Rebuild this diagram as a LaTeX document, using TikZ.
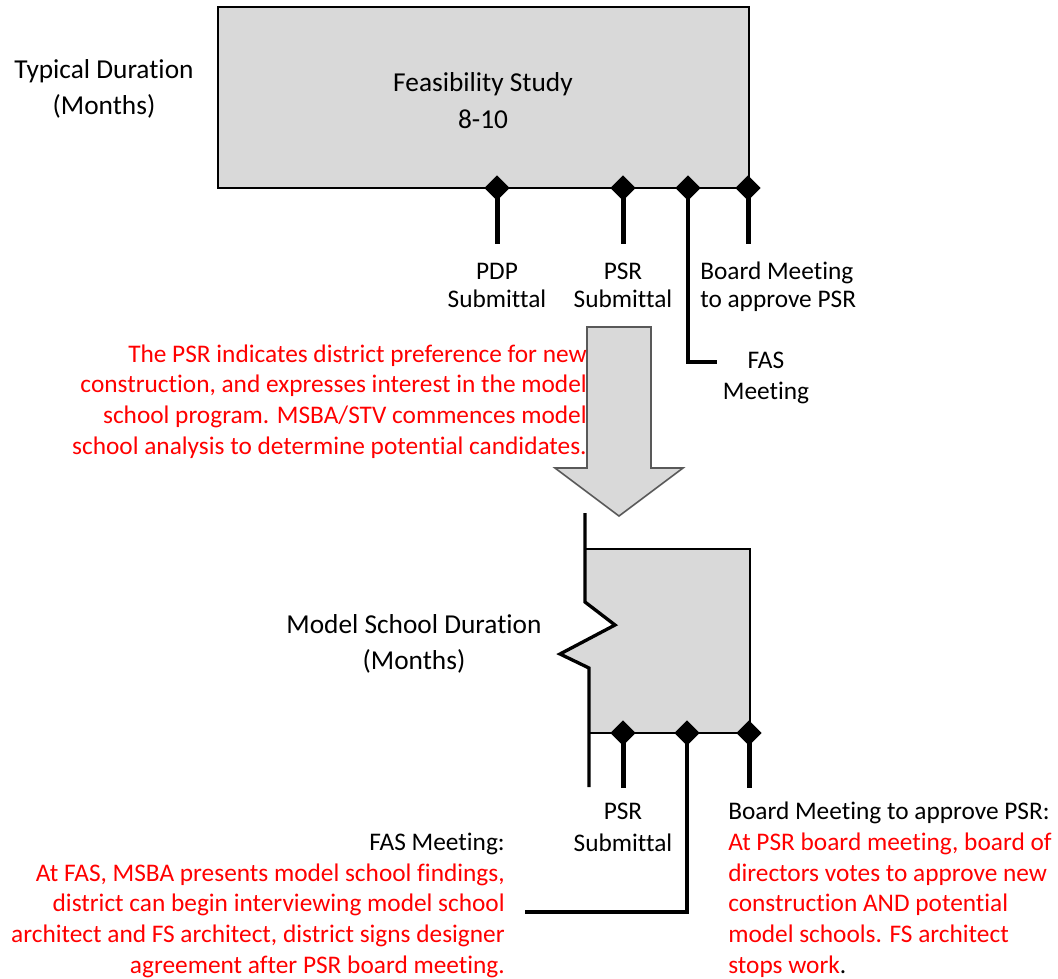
\documentclass[tikz,border=0pt]{standalone}
\usepackage{fontspec}
\setmainfont[Ligatures=NoCommon]{Carlito}
\usetikzlibrary{shapes.geometric}
\definecolor{boxgray}{RGB}{217,217,217}
\definecolor{arrowgray}{RGB}{89,89,89}
\definecolor{notered}{RGB}{255,0,0}

\begin{document}
\begin{tikzpicture}[x=0.75pt,y=-0.75pt]

%
% Styles
%
\tikzstyle{box}     = [draw=black,fill=boxgray,line width=1.5pt]
\tikzstyle{pin}     = [diamond,fill=black,inner sep=0pt,minimum size=19pt]
\tikzstyle{pinline} = [line width=3.75pt]
\tikzstyle{label}   = [align=center,inner sep=0pt,font=\fontsize{19}{23}\selectfont]
\tikzstyle{title}   = [label,font=\fontsize{20.5}{26.5}\selectfont]
\tikzstyle{note}    = [label,text=notered]

\useasboundingbox (0,0) rectangle (1058,979);

%
% Feasibility study
%
\draw[box] (218,7) rectangle (749,188);
\node[title,anchor=base] (typical) at (104,114) {Typical Duration\\(Months)};
\node[title,anchor=base] (study)   at (483,128) {Feasibility Study\\[1.25pt]8-10};

\node[pin] (pdp)   at (497,188) {};
\node[pin] (psr)   at (623,188) {};
\node[pin] (fas)   at (688,188) {};
\node[pin] (board) at (748,188) {};

\coordinate (pdpend)   at (497,244);
\coordinate (psrend)   at (623,244);
\coordinate (boardend) at (748,244);
\coordinate (fasbend)  at (688,362);
\coordinate (fasend)   at (717,362);

\draw[pinline] (pdp.center) -- (pdpend);
\draw[pinline] (psr.center) -- (psrend);
\draw[pinline] (board.center) -- (boardend);
\draw[line width=3pt] (fas.center) -- (fasbend) -- (fasend);

\node[label,anchor=base] (pdptext) at (497,307) {PDP\\[-2pt]Submittal};
\node[label,anchor=base] (psrtext) at (623,307) {PSR\\[-2pt]Submittal};
\node[label,anchor=base west,align=left] (boardtext) at (700,307) {Board Meeting\\[-2pt]to approve PSR};
\node[label,anchor=base] (fastext) at (766,399) {FAS\\Meeting};

%
% Transition
%
\draw[draw=arrowgray,fill=boxgray,line width=1.2pt]
  (587,327) -- (651,327) -- (651,468) -- (683,468) -- (619,516)
  -- (555,468) -- (587,468) -- cycle;
\node[note,anchor=base east,align=right] (psrnote) at (587,454)
  {The PSR indicates district preference for new\\
   construction, and expresses interest in the model\\
   school program. MSBA/STV commences model\\
   school analysis to determine potential candidates.};

%
% Model school
%
\fill[boxgray] (585,549) -- (750,549) -- (750,733) -- (589,733) -- (589,668)
  -- (560,654) -- (615,625) -- (585,602) -- cycle;
\draw[line width=1.5pt] (585,549) -- (750,549) -- (750,733) -- (589,733);
\draw[line width=2.5pt] (585,513) -- (585,602) -- (615,625) -- (560,654)
  -- (589,668) -- (589,787);
\node[title,anchor=base] (model) at (414,669) {Model School Duration\\[0.5pt](Months)};

\node[pin] (mpsr)   at (623,733) {};
\node[pin] (mfas)   at (687,733) {};
\node[pin] (mboard) at (749,733) {};

\coordinate (mpsrend)   at (623,788);
\coordinate (mboardend) at (749,788);
\coordinate (mfasbend)  at (687,912);
\coordinate (mfasend)   at (525,912);

\draw[pinline] (mpsr.center) -- (mpsrend);
\draw[pinline] (mboard.center) -- (mboardend);
\draw[line width=3.5pt] (mfas.center) -- (mfasbend) -- (mfasend);

\node[label,anchor=base] (mpsrtext) at (623,851) {PSR\\[1pt]Submittal};
\node[label,anchor=base west,align=left] (mboardtext) at (728,973)
  {Board Meeting to approve PSR:\\
   \textcolor{notered}{At PSR board meeting, board of}\\
   \textcolor{notered}{directors votes to approve new}\\
   \textcolor{notered}{construction AND potential}\\
   \textcolor{notered}{model schools. FS architect}\\
   \textcolor{notered}{stops work}.};
\node[label,anchor=base east,align=right] (mfastext) at (505,973)
  {FAS Meeting:\\
   \textcolor{notered}{At FAS, MSBA presents model school findings,}\\
   \textcolor{notered}{district can begin interviewing model school}\\
   \textcolor{notered}{architect and FS architect, district signs designer}\\
   \textcolor{notered}{agreement after PSR board meeting.}};

\end{tikzpicture}
\end{document}
